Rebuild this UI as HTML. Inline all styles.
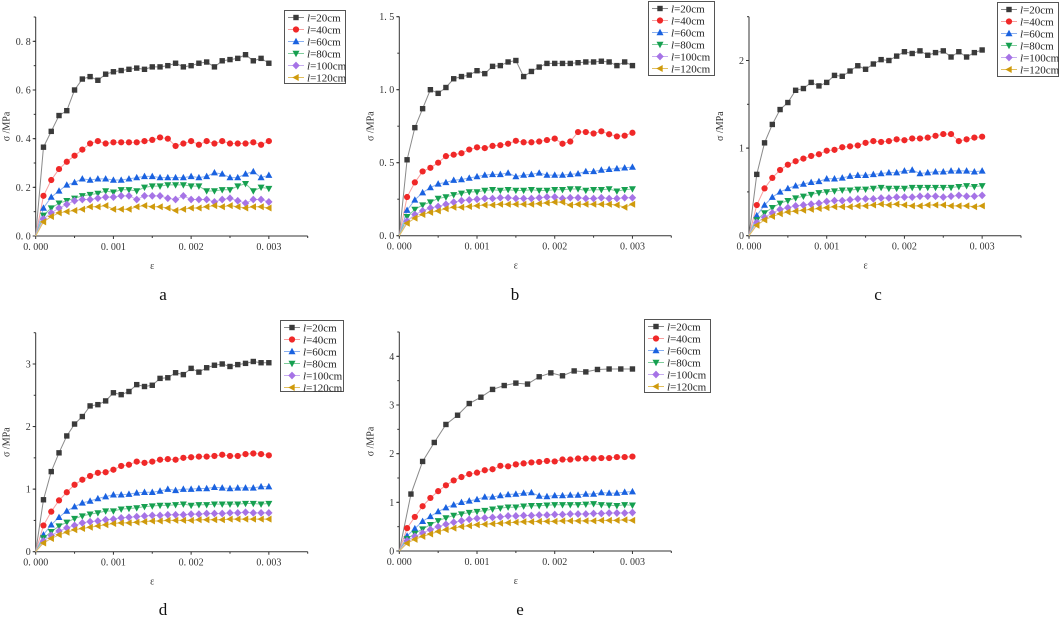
<!DOCTYPE html>
<html><head><meta charset="utf-8">
<style>
html,body{margin:0;padding:0;background:#fff;}
svg{display:block;font-family:"Liberation Serif","Noto Serif CJK SC",serif;}
</style></head>
<body>
<svg id="fig" width="1059" height="621" viewBox="0 0 1059 621" xmlns="http://www.w3.org/2000/svg"></svg>
<script>
const seriesLabels = ["20cm","40cm","60cm","80cm","100cm","120cm"];
const strainStep = 0.0001;
const strainStepE20 = 0.00015;
// panel a
const a20=[0,0.365,0.43,0.495,0.515,0.60,0.645,0.655,0.64,0.665,0.675,0.68,0.685,0.69,0.685,0.695,0.695,0.70,0.71,0.695,0.70,0.71,0.715,0.695,0.72,0.725,0.73,0.745,0.72,0.73,0.71];
const a40=[0,0.165,0.23,0.275,0.305,0.33,0.355,0.38,0.39,0.38,0.385,0.385,0.385,0.385,0.39,0.395,0.405,0.40,0.37,0.38,0.39,0.375,0.39,0.38,0.39,0.38,0.38,0.38,0.385,0.375,0.39];
const a60=[0,0.115,0.16,0.185,0.21,0.22,0.235,0.23,0.235,0.235,0.23,0.23,0.235,0.24,0.245,0.245,0.24,0.24,0.24,0.24,0.245,0.24,0.245,0.26,0.255,0.24,0.24,0.255,0.265,0.24,0.25];
const a80=[0,0.085,0.115,0.135,0.145,0.155,0.165,0.17,0.175,0.185,0.18,0.19,0.19,0.185,0.20,0.205,0.205,0.21,0.21,0.21,0.205,0.205,0.185,0.185,0.19,0.19,0.205,0.215,0.185,0.20,0.195];
const a100=[0,0.07,0.095,0.115,0.13,0.145,0.15,0.15,0.155,0.16,0.16,0.165,0.165,0.15,0.165,0.165,0.165,0.155,0.15,0.165,0.15,0.15,0.15,0.14,0.15,0.155,0.145,0.135,0.15,0.15,0.14];
const a120=[0,0.058,0.08,0.095,0.10,0.105,0.11,0.12,0.12,0.125,0.11,0.11,0.11,0.12,0.125,0.12,0.12,0.115,0.105,0.11,0.115,0.115,0.12,0.125,0.12,0.125,0.12,0.115,0.12,0.12,0.115];
// panel b
const b20=[0,0.52,0.74,0.87,1.0,0.975,1.015,1.075,1.09,1.10,1.13,1.11,1.16,1.165,1.19,1.20,1.09,1.125,1.155,1.18,1.18,1.18,1.18,1.185,1.19,1.19,1.195,1.19,1.165,1.19,1.165];
const b40=[0,0.265,0.365,0.44,0.465,0.50,0.545,0.555,0.565,0.59,0.605,0.60,0.615,0.62,0.63,0.65,0.64,0.64,0.645,0.655,0.665,0.63,0.645,0.71,0.71,0.70,0.715,0.695,0.68,0.685,0.705];
const b60=[0,0.175,0.245,0.295,0.33,0.355,0.365,0.38,0.385,0.395,0.405,0.415,0.42,0.42,0.43,0.405,0.415,0.42,0.43,0.415,0.415,0.415,0.42,0.425,0.44,0.44,0.45,0.455,0.46,0.465,0.47];
const b80=[0,0.13,0.18,0.21,0.23,0.255,0.265,0.28,0.29,0.30,0.30,0.31,0.315,0.31,0.315,0.31,0.31,0.315,0.31,0.31,0.315,0.315,0.32,0.32,0.31,0.315,0.315,0.32,0.305,0.315,0.32];
const b100=[0,0.10,0.145,0.17,0.19,0.20,0.215,0.23,0.24,0.245,0.25,0.255,0.255,0.26,0.26,0.255,0.255,0.255,0.26,0.265,0.265,0.255,0.26,0.26,0.255,0.255,0.26,0.255,0.255,0.26,0.26];
const b120=[0,0.085,0.12,0.145,0.16,0.17,0.185,0.195,0.195,0.20,0.205,0.21,0.21,0.215,0.215,0.215,0.215,0.215,0.22,0.225,0.23,0.23,0.21,0.215,0.215,0.215,0.215,0.215,0.21,0.195,0.215];
// panel c
const c20=[0,0.70,1.06,1.27,1.44,1.52,1.66,1.68,1.75,1.71,1.75,1.83,1.82,1.88,1.94,1.90,1.96,2.01,2.00,2.05,2.10,2.08,2.11,2.06,2.09,2.11,2.04,2.10,2.04,2.09,2.12];
const c40=[0,0.35,0.54,0.66,0.75,0.81,0.85,0.88,0.91,0.93,0.97,0.98,1.01,1.02,1.03,1.06,1.08,1.07,1.08,1.10,1.09,1.11,1.11,1.12,1.14,1.16,1.16,1.08,1.10,1.12,1.13];
const c60=[0,0.23,0.35,0.44,0.50,0.54,0.57,0.59,0.61,0.62,0.65,0.65,0.66,0.68,0.69,0.69,0.70,0.71,0.72,0.72,0.74,0.75,0.71,0.72,0.73,0.73,0.74,0.74,0.74,0.73,0.74];
const c80=[0,0.18,0.26,0.32,0.37,0.40,0.43,0.45,0.47,0.49,0.50,0.51,0.52,0.52,0.53,0.53,0.54,0.55,0.54,0.54,0.54,0.55,0.55,0.55,0.55,0.55,0.55,0.56,0.57,0.56,0.57];
const c100=[0,0.15,0.21,0.26,0.30,0.32,0.34,0.35,0.36,0.37,0.39,0.40,0.40,0.41,0.42,0.42,0.42,0.43,0.43,0.44,0.44,0.44,0.45,0.45,0.45,0.44,0.45,0.46,0.45,0.45,0.46];
const c120=[0,0.12,0.18,0.22,0.25,0.27,0.28,0.29,0.30,0.31,0.32,0.33,0.33,0.33,0.34,0.34,0.35,0.36,0.35,0.36,0.35,0.34,0.34,0.35,0.35,0.35,0.34,0.34,0.34,0.33,0.34];
// panel d
const d20=[0,0.83,1.28,1.58,1.85,2.04,2.16,2.33,2.35,2.41,2.54,2.51,2.56,2.67,2.64,2.66,2.77,2.78,2.86,2.83,2.93,2.87,2.94,2.98,3.00,2.96,2.99,3.01,3.04,3.02,3.02];
const d40=[0,0.42,0.64,0.82,0.95,1.07,1.15,1.21,1.26,1.27,1.31,1.37,1.39,1.44,1.42,1.44,1.47,1.48,1.47,1.50,1.51,1.52,1.52,1.53,1.55,1.53,1.53,1.56,1.57,1.56,1.54];
const d60=[0,0.27,0.43,0.55,0.65,0.72,0.78,0.81,0.85,0.88,0.91,0.91,0.92,0.94,0.95,0.95,0.97,1.00,0.98,1.00,1.00,1.01,1.01,1.03,1.02,1.01,1.02,1.02,1.02,1.04,1.04];
const d80=[0,0.22,0.32,0.41,0.47,0.53,0.57,0.60,0.62,0.65,0.65,0.68,0.69,0.70,0.72,0.73,0.74,0.74,0.75,0.76,0.74,0.75,0.75,0.76,0.76,0.76,0.76,0.77,0.77,0.76,0.77];
const d100=[0,0.17,0.26,0.33,0.38,0.42,0.46,0.48,0.49,0.51,0.52,0.54,0.55,0.56,0.57,0.58,0.58,0.59,0.59,0.59,0.60,0.60,0.61,0.61,0.61,0.62,0.62,0.63,0.62,0.62,0.62];
const d120=[0,0.14,0.21,0.27,0.31,0.35,0.37,0.39,0.41,0.43,0.45,0.46,0.46,0.47,0.48,0.49,0.49,0.50,0.50,0.50,0.50,0.51,0.51,0.51,0.51,0.52,0.52,0.52,0.52,0.52,0.52];
// panel e
const e20=[0,1.17,1.84,2.23,2.60,2.79,3.03,3.16,3.32,3.40,3.45,3.43,3.58,3.66,3.60,3.70,3.68,3.73,3.74,3.74,3.74];
const e40=[0,0.47,0.70,0.92,1.09,1.23,1.35,1.45,1.52,1.58,1.61,1.66,1.68,1.75,1.74,1.78,1.80,1.82,1.83,1.85,1.84,1.88,1.88,1.90,1.90,1.90,1.91,1.91,1.93,1.93,1.94];
const e60=[0,0.31,0.46,0.61,0.71,0.81,0.89,0.95,1.00,1.03,1.06,1.11,1.11,1.14,1.16,1.17,1.19,1.20,1.13,1.12,1.14,1.14,1.15,1.15,1.17,1.17,1.20,1.19,1.19,1.21,1.22];
const e80=[0,0.25,0.36,0.45,0.54,0.62,0.68,0.73,0.76,0.79,0.81,0.83,0.86,0.88,0.90,0.90,0.92,0.93,0.93,0.94,0.95,0.95,0.95,0.95,0.96,0.97,0.95,0.94,0.93,0.95,0.94];
const e100=[0,0.21,0.30,0.37,0.44,0.50,0.55,0.59,0.62,0.65,0.67,0.68,0.69,0.70,0.72,0.72,0.73,0.73,0.74,0.74,0.75,0.75,0.76,0.76,0.76,0.77,0.77,0.78,0.78,0.78,0.79];
const e120=[0,0.16,0.24,0.30,0.35,0.40,0.44,0.47,0.50,0.52,0.54,0.55,0.56,0.57,0.58,0.59,0.60,0.60,0.61,0.61,0.61,0.62,0.62,0.62,0.62,0.62,0.63,0.63,0.63,0.64,0.63];
const xTicks=[0,0.001,0.002,0.003];
const xTickLabels=["0. 000","0. 001","0. 002","0. 003"];
const yTicksA=[0,0.2,0.4,0.6,0.8], yLabelsA=["0. 0","0. 2","0. 4","0. 6","0. 8"];
const yTicksB=[0,0.5,1.0,1.5], yLabelsB=["0. 0","0. 5","1. 0","1. 5"];
const yTicksC=[0,1,2], yLabelsC=["0","1","2"];
const yTicksD=[0,1,2,3], yLabelsD=["0","1","2","3"];
const yTicksE=[0,1,2,3,4], yLabelsE=["0","1","2","3","4"];

const NS="http://www.w3.org/2000/svg";
const svg=document.getElementById('fig');
function mk(tag,attrs,parent,text){const e=document.createElementNS(NS,tag);for(const k in attrs)e.setAttribute(k,attrs[k]);if(text!==undefined)e.textContent=text;(parent||svg).appendChild(e);return e;}
const colors=["#3a3a3a","#f02828","#1a62e0","#16a050","#a673e6","#cf9a0c"];
const lineColors=["#8a8a8a","#f7a0a0","#8ab0f0","#80cc9c","#c8aef0","#e2c060"];
const shapes=["square","circle","up","down","diamond","left"];
function marker(g,shape,x,y,c,r){
  let el;
  if(shape==="square") el=mk('rect',{x:x-r,y:y-r,width:2*r,height:2*r,fill:c},g);
  else if(shape==="circle") el=mk('circle',{cx:x,cy:y,r:r+0.4,fill:c},g);
  else {let p;
    if(shape==="up") p=[[x,y-r-1],[x+r+0.8,y+r],[x-r-0.8,y+r]];
    else if(shape==="down") p=[[x,y+r+1],[x+r+0.8,y-r],[x-r-0.8,y-r]];
    else if(shape==="diamond") p=[[x,y-r-1.2],[x+r+1,y],[x,y+r+1.2],[x-r-1,y]];
    else p=[[x-r-1,y],[x+r,y-r-0.8],[x+r,y+r+0.8]];
    el=mk('polygon',{points:p.map(q=>q.join(',')).join(' '),fill:c},g);}
  
  
}
const panels=[
 {id:'a',x0:35.7,y0:236,ymax:0.9,series:[a20,a40,a60,a80,a100,a120],yt:yTicksA,yl:yLabelsA,minor:0.1,leg:[284,10,61,73],label:[163,300]},
 {id:'b',x0:399.3,y0:235.7,ymax:1.5,series:[b20,b40,b60,b80,b100,b120],yt:yTicksB,yl:yLabelsB,minor:0.25,leg:[648,1,66,74],label:[515,300]},
 {id:'c',x0:749,y0:235.7,ymax:2.5,series:[c20,c40,c60,c80,c100,c120],yt:yTicksC,yl:yLabelsC,minor:0.5,leg:[997,2,61,74],label:[878,300]},
 {id:'d',x0:35.7,y0:551.7,ymax:3.5,series:[d20,d40,d60,d80,d100,d120],yt:yTicksD,yl:yLabelsD,minor:0.5,leg:[280,320,63,71],label:[163,615]},
 {id:'e',x0:399.3,y0:551,ymax:4.5,series:[e20,e40,e60,e80,e100,e120],yt:yTicksE,yl:yLabelsE,minor:0.5,leg:[644,319,66,73],label:[520,615]}
];
const W=272,H=219,XMAX=0.0035;
panels.forEach(P=>{
  const g=mk('g',{},svg);
  
  
  const X=v=>P.x0+v/XMAX*W, Y=v=>P.y0-v/P.ymax*H;
  const ax=mk('path',{d:`M${P.x0},${P.y0-H} V${P.y0} H${P.x0+W}`,stroke:'#333',fill:'none','stroke-width':1},g);
  
  
  for(let v=0;v<=XMAX+1e-9;v+=0.0005){const major=Math.abs(v/0.001-Math.round(v/0.001))<1e-6;
    mk('line',{x1:X(v),x2:X(v),y1:P.y0,y2:P.y0+(major?3:2),stroke:'#333','stroke-width':1},g);}
  xTicks.forEach((v,i)=>{const t=mk('text',{x:X(v),y:P.y0+14,'font-size':10,'text-anchor':'middle',fill:'#333'},g,xTickLabels[i]);
    
    });
  for(let v=0;v<=P.ymax+1e-9;v+=P.minor){mk('line',{x1:P.x0,x2:P.x0-2,y1:Y(v),y2:Y(v),stroke:'#333','stroke-width':1},g);}
  P.yt.forEach((v,i)=>{mk('line',{x1:P.x0,x2:P.x0-3,y1:Y(v),y2:Y(v),stroke:'#333'},g);
    const t=mk('text',{x:P.x0-5,y:Y(v)+3.5,'font-size':10,'text-anchor':'end',fill:'#333'},g,P.yl[i]);
    
    });
  const xt=mk('text',{x:X(0.0015),y:P.y0+33,'font-size':10,'text-anchor':'middle',fill:'#333'},g,'ε');
  
  
  const yx=P.x0-26, yy=P.y0-H/2;
  const yt=mk('text',{x:yx,y:yy,'font-size':10,'text-anchor':'middle',fill:'#333',transform:`rotate(-90 ${yx} ${yy})`},g,'σ /MPa');
  
  
  P.series.forEach((arr,si)=>{
    const step=(P.id==='e'&&si===0)?strainStepE20:strainStep;
    const sg=mk('g',{},g);
    
    
    const pts=arr.map((v,i)=>[X(i*step),Y(v)]);
    mk('polyline',{points:pts.map(p=>p.join(',')).join(' '),fill:'none',stroke:lineColors[si],'stroke-width':1},sg);
    pts.forEach((p,i)=>{if(i>0)marker(sg,shapes[si],p[0],p[1],colors[si],2.7);});
  });
  const [lx,ly,lw,lh]=P.leg;
  const lg=mk('g',{},g);
  
  
  mk('rect',{x:lx+0.5,y:ly+0.5,width:lw,height:lh,fill:'#fff',stroke:'#555','stroke-width':1},lg);
  seriesLabels.forEach((s,si)=>{const cy=ly+7.5+si*12;
    const eg=mk('g',{},lg);
    
    
    mk('line',{x1:lx+4,x2:lx+20,y1:cy,y2:cy,stroke:lineColors[si],'stroke-width':1},eg);
    marker(eg,shapes[si],lx+12,cy,colors[si],2.7);
    const t=mk('text',{x:lx+23,y:cy+4,'font-size':11,fill:'#222'},eg);
    mk('tspan',{'font-style':'italic'},t,'l');
    mk('tspan',{},t,'='+s);});
  const pl=mk('text',{x:P.label[0],y:P.label[1],'font-size':17,'text-anchor':'middle',fill:'#111'},svg,P.id);
  
  
});
</script>
</body></html>
